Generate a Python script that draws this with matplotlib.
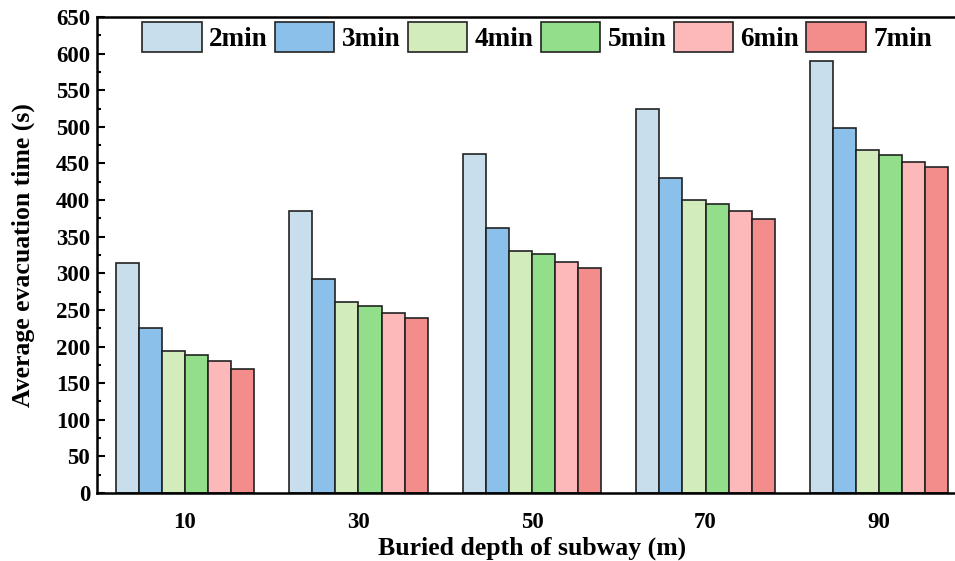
import matplotlib
matplotlib.use("Agg")
import matplotlib.pyplot as plt
import numpy as np
from matplotlib.ticker import MultipleLocator

plt.rcParams['font.family'] = ['Liberation Serif', 'DejaVu Serif']
plt.rcParams['font.weight'] = 'bold'

depths = ['10', '30', '50', '70', '90']
series_names = ['2min', '3min', '4min', '5min', '6min', '7min']
v2 = [314, 385, 463, 524, 590]
v3 = [225, 292, 362, 430, 499]
v4 = [194, 261, 330, 400, 468]
v5 = [188, 255, 326, 395, 462]
v6 = [180, 246, 315, 385, 452]
v7 = [169, 239, 307, 374, 445]
values = [v2, v3, v4, v5, v6, v7]
colors = ['#C8DEEC', '#8AC0EA', '#D3ECBC', '#93DE8B', '#FDB9BA', '#F28D8C']

fig = plt.figure(figsize=(9.55, 5.61), dpi=100)
ax = fig.add_axes([97/955, 1-493/561, (967-97)/955, (493-17)/561])

x = np.arange(len(depths))
w = 0.8 / 6
for i, (vals, c, name) in enumerate(zip(values, colors, series_names)):
    ax.bar(x - 0.4 + w * (i + 0.5), vals, width=w, color=c, edgecolor='#222222',
           linewidth=1.2, label=name, zorder=2)

ax.set_xlim(-0.507, 4.507)
ax.set_ylim(0, 650)
ax.set_xticks(x)
ax.set_xticklabels(depths)
ax.yaxis.set_major_locator(MultipleLocator(50))
ax.yaxis.set_minor_locator(MultipleLocator(25))
ax.tick_params(axis='y', which='major', direction='in', length=6, width=1.5, labelsize=16.5, pad=5)
ax.tick_params(axis='y', which='minor', direction='in', length=3, width=1.5)
ax.tick_params(axis='x', which='major', length=0, labelsize=16.5, pad=14)
for s in ax.spines.values():
    s.set_linewidth(1.8)

ax.set_xlabel('Buried depth of subway (m)', fontsize=18.5, fontweight='bold', labelpad=2)
ax.set_ylabel('Average evacuation time (s)', fontsize=18.5, fontweight='bold', labelpad=15)

leg = ax.legend(ncol=6, loc='upper left', bbox_to_anchor=(142/955, 1-22/561),
                bbox_transform=fig.transFigure, frameon=False,
                prop={'size': 19.5, 'weight': 'bold'},
                handlelength=2.2, handleheight=1.3, handletextpad=0.27,
                columnspacing=0.27, borderpad=0, borderaxespad=0)

fig.savefig('out.png', dpi=100)
